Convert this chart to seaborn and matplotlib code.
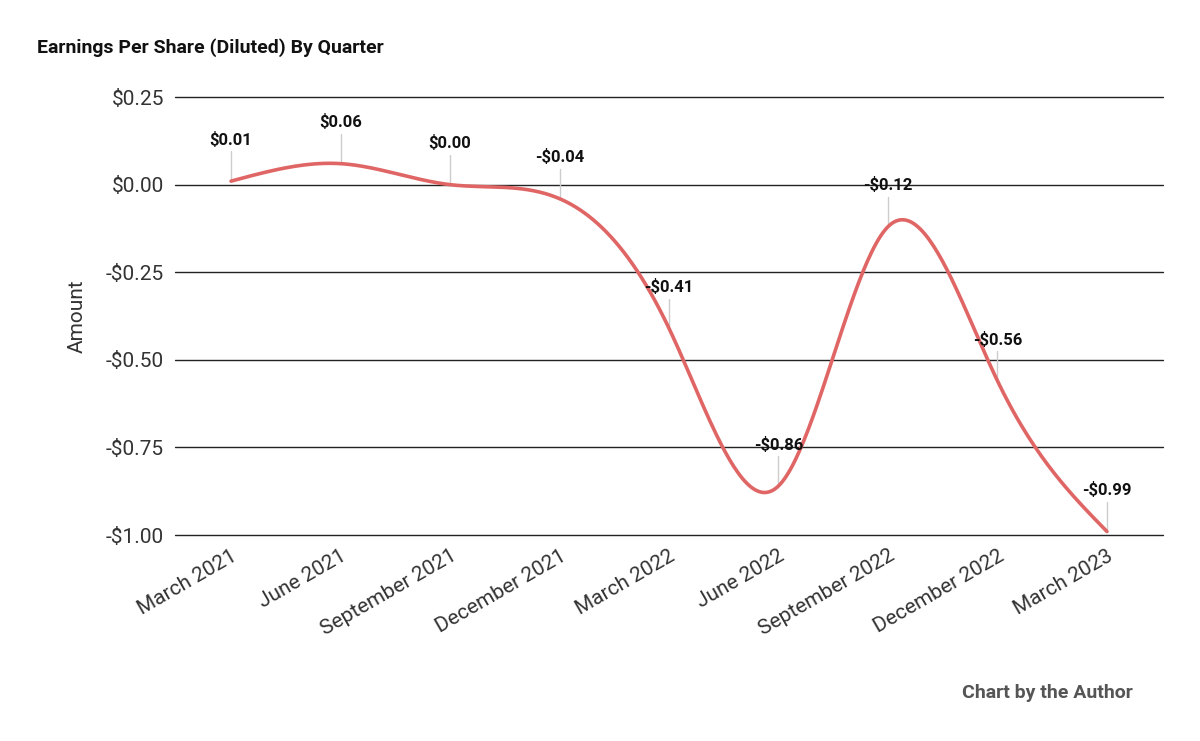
import numpy as np
import pandas as pd
import matplotlib
matplotlib.use("Agg")
import matplotlib.pyplot as plt
import seaborn as sns

quarters = ["March 2021", "June 2021", "September 2021", "December 2021", "March 2022",
            "June 2022", "September 2022", "December 2022", "March 2023"]
eps = [0.01, 0.06, 0.00, -0.04, -0.41, -0.86, -0.12, -0.56, -0.99]
yticks = [0.25, 0.0, -0.25, -0.5, -0.75, -1.0]
ytick_labels = ["$0.25", "$0.00", "-$0.25", "-$0.50", "-$0.75", "-$1.00"]

sns.set_style("white")
plt.rcParams["font.family"] = ["Roboto", "Liberation Sans", "DejaVu Sans"]
plt.rcParams["font.sans-serif"] = ["Roboto", "Liberation Sans", "DejaVu Sans"]

def natural_spline(x, y, n=400):
    x = np.asarray(x, float); y = np.asarray(y, float)
    k = len(x); h = np.diff(x)
    A = np.zeros((k, k)); b = np.zeros(k)
    A[0, 0] = A[-1, -1] = 1
    for i in range(1, k - 1):
        A[i, i - 1] = h[i - 1]; A[i, i] = 2 * (h[i - 1] + h[i]); A[i, i + 1] = h[i]
        b[i] = 3 * ((y[i + 1] - y[i]) / h[i] - (y[i] - y[i - 1]) / h[i - 1])
    c = np.linalg.solve(A, b)
    xs = np.linspace(x[0], x[-1], n); ys = np.empty_like(xs)
    for j, t in enumerate(xs):
        i = min(np.searchsorted(x, t, side="right") - 1, k - 2)
        d = t - x[i]
        bi = (y[i + 1] - y[i]) / h[i] - h[i] * (c[i + 1] + 2 * c[i]) / 3
        di = (c[i + 1] - c[i]) / (3 * h[i])
        ys[j] = y[i] + bi * d + c[i] * d ** 2 + di * d ** 3
    return xs, ys

fig = plt.figure(figsize=(12, 7.41), dpi=100)
ax = fig.add_axes([0.146, 0.278, 0.823, 0.591])
xi = np.arange(len(quarters))
xs, ys = natural_spline(xi, eps)
df = pd.DataFrame({"x": xs, "y": ys})
for yv in yticks:
    ax.axhline(yv, color="#222222", lw=1, zorder=1, clip_on=False)
sns.lineplot(data=df, x="x", y="y", ax=ax, color="#e06666", lw=2.6, zorder=3)

for x, v in zip(xi, eps):
    ax.plot([x, x], [v, v + 0.085], color="#cccccc", lw=1, zorder=2)
    lab = ("-$%.2f" % -v) if v < 0 else ("$%.2f" % v)
    ax.text(x, v + 0.095, lab, ha="center", va="bottom", fontsize=12,
            fontweight="bold", color="#111111", zorder=4)

ax.set_xlim(-0.51, 8.51)
ax.set_ylim(-1.0, 0.25)
ax.set_yticks(yticks)
ax.set_yticklabels(ytick_labels, fontsize=15, color="#333333")
ax.set_xticks(xi)
ax.set_xticklabels(quarters, rotation=30, ha="right", rotation_mode="anchor", fontsize=15, color="#333333")
ax.tick_params(length=0, pad=8)
ax.set_xlabel("")
ax.set_ylabel("Amount", fontsize=15, color="#333333", labelpad=14)
for s in ax.spines.values():
    s.set_visible(False)

fig.text(0.031, 0.928, "Earnings Per Share (Diluted) By Quarter", fontsize=14, fontweight="bold", color="#111111")
fig.text(0.944, 0.058, "Chart by the Author", fontsize=14, fontweight="bold", color="#555555", ha="right")
fig.savefig("out.png", dpi=100)
